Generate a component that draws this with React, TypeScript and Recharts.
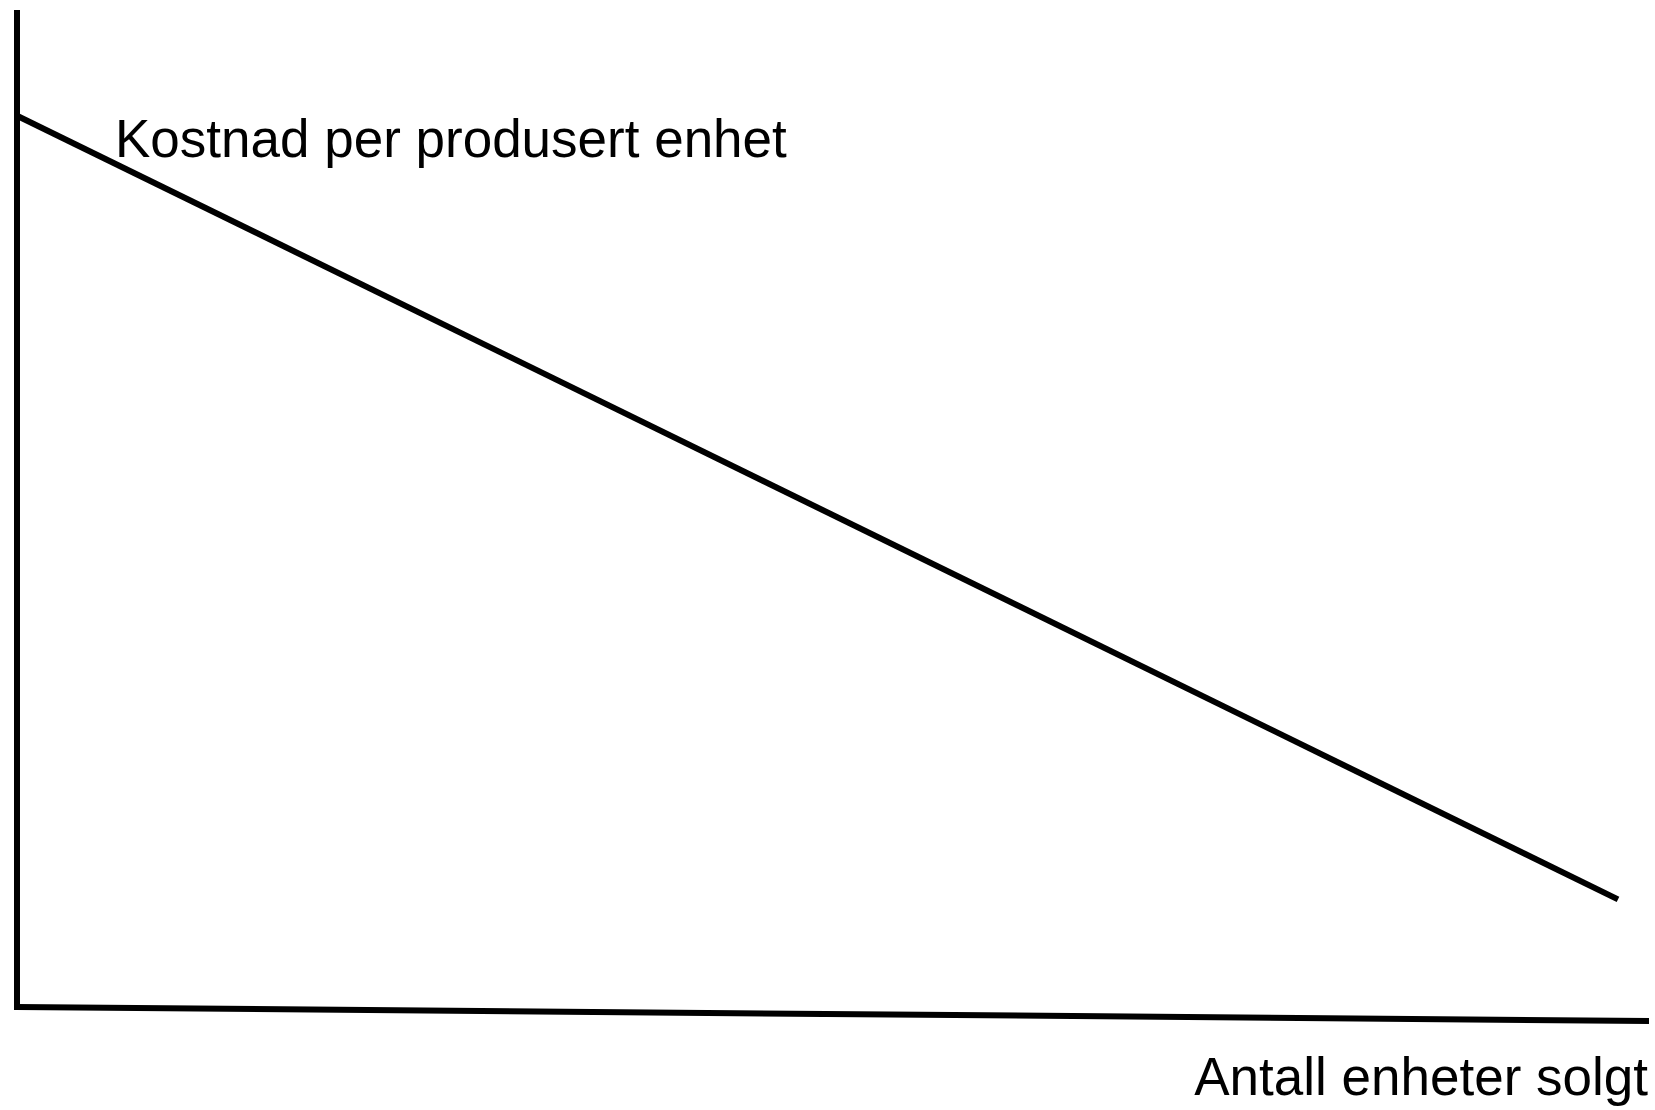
import { LineChart, Line, XAxis, YAxis, ReferenceLine } from 'recharts'

// enheter solgt (0-100) og kostnad per enhet (0-100), lest av figuren
const units = [0, 98.1]
const costPerUnit = [89.4, 10.8]

// aksene: y-aksen står rett opp, x-aksen heller litt nedover mot høyre
const xAxisEnds = [0, 100]
const xAxisLevels = [0, -1.4]
const yAxisEnds = [-0.3, 100]

const yLabel = 'Kostnad per produsert enhet'
const xLabel = 'Antall enheter solgt'

const W = 1655
const H = 1110
const FONT = '"Liberation Sans", Arial, sans-serif'

export default function App() {
  const data = units.map((u, i) => ({ units: u, cost: costPerUnit[i] }))

  return (
    <div style={{ position: 'absolute', left: 0, top: 0, width: W, height: H, background: '#fff' }}>
      <LineChart width={W} height={H} data={data} margin={{ top: 10, right: 6, bottom: 83, left: 17 }}>
        <XAxis dataKey="units" type="number" domain={[0, 100]} hide />
        <YAxis type="number" domain={[-2, 100]} hide />
        <ReferenceLine
          segment={[
            { x: 0, y: yAxisEnds[0] },
            { x: 0, y: yAxisEnds[1] },
          ]}
          stroke="#000"
          strokeWidth={6}
          ifOverflow="visible"
        />
        <ReferenceLine
          segment={[
            { x: xAxisEnds[0], y: xAxisLevels[0] },
            { x: xAxisEnds[1], y: xAxisLevels[1] },
          ]}
          stroke="#000"
          strokeWidth={6}
          ifOverflow="visible"
        />
        <Line
          dataKey="cost"
          type="linear"
          stroke="#000"
          strokeWidth={6}
          dot={false}
          activeDot={false}
          isAnimationActive={false}
        />
      </LineChart>
      <svg
        width={W}
        height={H}
        style={{ position: 'absolute', left: 0, top: 0, pointerEvents: 'none' }}
      >
        <text x={115} y={157} fontFamily={FONT} fontSize={53} fill="#000">
          {yLabel}
        </text>
        <text x={1648} y={1095} fontFamily={FONT} fontSize={53} fill="#000" textAnchor="end">
          {xLabel}
        </text>
      </svg>
    </div>
  )
}
